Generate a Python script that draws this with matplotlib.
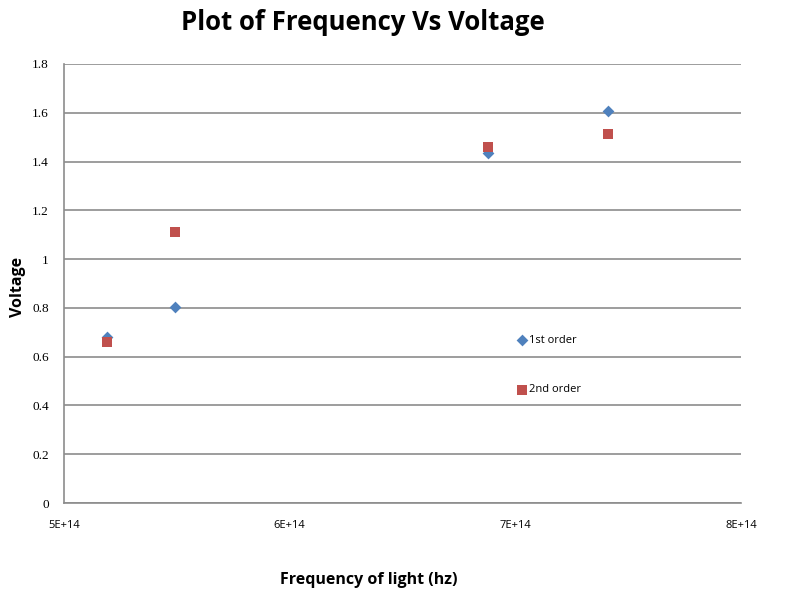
import matplotlib
matplotlib.use("Agg")
import matplotlib.pyplot as plt

freq = [5.19e14, 5.49e14, 6.88e14, 7.41e14]
v_first = [0.68, 0.803, 1.436, 1.607]
v_second = [0.661, 1.112, 1.459, 1.513]
xticks = [5e14, 6e14, 7e14, 8e14]
xtick_labels = ["5E+14", "6E+14", "7E+14", "8E+14"]
yticks = [0, 0.2, 0.4, 0.6, 0.8, 1, 1.2, 1.4, 1.6, 1.8]
ytick_labels = ["0", "0.2", "0.4", "0.6", "0.8", "1", "1.2", "1.4", "1.6", "1.8"]

fig = plt.figure(figsize=(7.86, 6), dpi=100)
ax = fig.add_axes([64/786, 1-503/600, (741-64)/786, (503-64)/600])

ax.scatter(freq, v_first, marker="D", s=36, color="#4F81BD", label="1st order", zorder=3, linewidths=0)
ax.scatter(freq, v_second, marker="s", s=50, color="#C0504D", label="2nd order", zorder=3, linewidths=0)

ax.set_xlim(5e14, 8e14)
ax.set_ylim(0, 1.8)
ax.set_xticks(xticks)
ax.set_xticklabels(xtick_labels, family="Open Sans", fontsize=8)
ax.set_yticks(yticks)
ax.set_yticklabels(ytick_labels, family="Liberation Serif", fontsize=9.5)
ax.tick_params(length=0)
ax.tick_params(axis="y", pad=11)
ax.tick_params(axis="x", pad=12)
ax.yaxis.grid(True, color="#8c8c8c", linewidth=1.2)
ax.set_axisbelow(True)
for s in ["top", "right"]:
    ax.spines[s].set_visible(False)
for s in ["left", "bottom"]:
    ax.spines[s].set_color("#8c8c8c")
    ax.spines[s].set_linewidth(1.2)

fig.text(363/786, 1-22/600, "Plot of Frequency Vs Voltage", ha="center", va="center",
         fontsize=18.5, fontweight="bold", family="Open Sans")
fig.text(369/786, 1-580/600, "Frequency of light (hz)", ha="center", va="center",
         fontsize=11.5, fontweight="bold", family="Open Sans")
fig.text(18/786, 1-287/600, "Voltage", ha="center", va="center", rotation=90,
         fontsize=11.5, fontweight="bold", family="Open Sans")

leg = ax.legend(loc="upper left", bbox_to_anchor=(510/786, 1-329/600), bbox_transform=fig.transFigure,
                frameon=False, labelspacing=3.5, handletextpad=0.0, borderpad=0,
                prop={"family": "Open Sans", "size": 8}, handlelength=1.2)

fig.savefig("out.png", dpi=100)
